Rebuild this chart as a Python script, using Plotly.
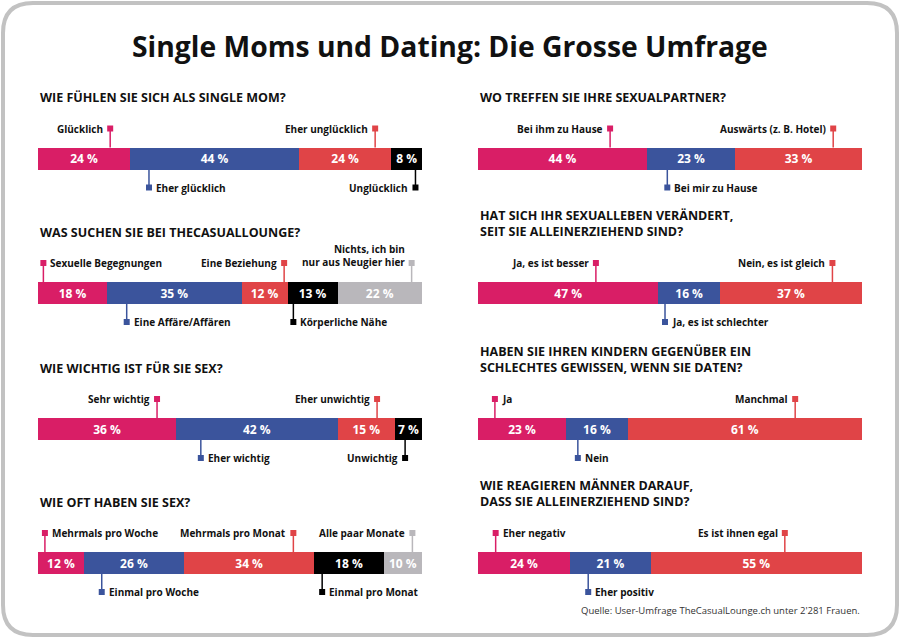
import plotly.graph_objects as go

W, H = 900, 638

# ---------------- data ----------------
title = "Single Moms und Dating: Die Grosse Umfrage"
source = "Quelle: User-Umfrage TheCasualLounge.ch unter 2'281 Frauen."

q1_title = "WIE FÜHLEN SIE SICH ALS SINGLE MOM?"
q1_labels = ["Glücklich", "Eher glücklich", "Eher unglücklich", "Unglücklich"]
q1_values = [24, 44, 24, 8]

q2_title = "WAS SUCHEN SIE BEI THECASUALLOUNGE?"
q2_labels = ["Sexuelle Begegnungen", "Eine Affäre/Affären", "Eine Beziehung",
             "Körperliche Nähe", "Nichts, ich bin<br>nur aus Neugier hier"]
q2_values = [18, 35, 12, 13, 22]

q3_title = "WIE WICHTIG IST FÜR SIE SEX?"
q3_labels = ["Sehr wichtig", "Eher wichtig", "Eher unwichtig", "Unwichtig"]
q3_values = [36, 42, 15, 7]

q4_title = "WIE OFT HABEN SIE SEX?"
q4_labels = ["Mehrmals pro Woche", "Einmal pro Woche", "Mehrmals pro Monat",
             "Einmal pro Monat", "Alle paar Monate"]
q4_values = [12, 26, 34, 18, 10]

q5_title = "WO TREFFEN SIE IHRE SEXUALPARTNER?"
q5_labels = ["Bei ihm zu Hause", "Bei mir zu Hause", "Auswärts (z. B. Hotel)"]
q5_values = [44, 23, 33]

q6_title = "HAT SICH IHR SEXUALLEBEN VERÄNDERT,<br>SEIT SIE ALLEINERZIEHEND SIND?"
q6_labels = ["Ja, es ist besser", "Ja, es ist schlechter", "Nein, es ist gleich"]
q6_values = [47, 16, 37]

q7_title = "HABEN SIE IHREN KINDERN GEGENÜBER EIN<br>SCHLECHTES GEWISSEN, WENN SIE DATEN?"
q7_labels = ["Ja", "Nein", "Manchmal"]
q7_values = [23, 16, 61]

q8_title = "WIE REAGIEREN MÄNNER DARAUF,<br>DASS SIE ALLEINERZIEHEND SIND?"
q8_labels = ["Eher negativ", "Eher positiv", "Es ist ihnen egal"]
q8_values = [24, 21, 55]

# ---------------- layout / style (positions, not data) ----------------
COLORS = ["#D91E66", "#3B549C", "#E04447", "#000000", "#B9B7BB"]
FONT = "Open Sans"

# label placement per segment: (side above/below, marker position on bar in % , text side)
q1_place = [("a", 18.8, "L"), ("b", 28.9, "R"), ("a", 87.8, "L"), ("b", 98.3, "L")]
q2_place = [("a", 1.4, "R"), ("b", 23.1, "R"), ("a", 64.1, "L"), ("b", 66.5, "R"), ("a", 97.3, "L")]
q3_place = [("a", 31.0, "L"), ("b", 42.4, "R"), ("a", 88.3, "L"), ("b", 95.6, "L")]
q4_place = [("a", 1.8, "R"), ("b", 16.6, "R"), ("a", 66.5, "L"), ("b", 74.0, "R"), ("a", 97.5, "L")]
q5_place = [("a", 34.4, "L"), ("b", 49.3, "R"), ("a", 92.5, "L")]
q6_place = [("a", 30.7, "L"), ("b", 48.7, "R"), ("a", 92.3, "L")]
q7_place = [("a", 4.4, "R"), ("b", 26.0, "R"), ("a", 82.6, "L")]
q8_place = [("a", 4.6, "R"), ("b", 28.7, "R"), ("a", 79.9, "L")]

panels = [
    (q1_title, q1_labels, q1_values, q1_place, 38, 158.5),
    (q2_title, q2_labels, q2_values, q2_place, 38, 293),
    (q3_title, q3_labels, q3_values, q3_place, 38, 429),
    (q4_title, q4_labels, q4_values, q4_place, 38, 563),
    (q5_title, q5_labels, q5_values, q5_place, 478, 158.5),
    (q6_title, q6_labels, q6_values, q6_place, 478, 293),
    (q7_title, q7_labels, q7_values, q7_place, 478, 429),
    (q8_title, q8_labels, q8_values, q8_place, 478, 563),
]

BAR_W = 384
UNIT = 22.0          # px per y-unit (bar height)
HALF = 2.0           # y range half-size in units
LAB_A = 30.0 / UNIT  # label offset above bar center
LAB_B = 29.0 / UNIT  # label offset below bar center


def px(x):
    return x / W


def py(y):
    return 1 - y / H


fig = go.Figure()
layout = dict(
    width=W, height=H, margin=dict(l=0, r=0, t=0, b=0),
    paper_bgcolor="white", plot_bgcolor="rgba(0,0,0,0)",
    showlegend=False, barmode="stack",
    uniformtext=dict(minsize=12, mode="show"),
    font=dict(family=FONT, color="#111111"),
)
annotations = []
shapes = []

for i, (qt, labels, values, place, x0, yc) in enumerate(panels):
    n = i + 1
    xa = "x" if n == 1 else f"x{n}"
    ya = "y" if n == 1 else f"y{n}"
    layout["xaxis" if n == 1 else f"xaxis{n}"] = dict(
        domain=[px(x0), px(x0 + BAR_W)], range=[0, 100], visible=False,
        fixedrange=True, anchor=ya)
    layout["yaxis" if n == 1 else f"yaxis{n}"] = dict(
        domain=[py(yc + HALF * UNIT), py(yc - HALF * UNIT)], range=[-HALF, HALF],
        visible=False, fixedrange=True, anchor=xa)

    for j, (lab, v) in enumerate(zip(labels, values)):
        fig.add_trace(go.Bar(
            x=[v], y=[0], orientation="h", width=1, xaxis=xa, yaxis=ya,
            marker=dict(color=COLORS[j], line=dict(width=0)),
            text=[f"{v} %"], textposition="inside", insidetextanchor="middle",
            textangle=0,
            textfont=dict(color="white", size=12, family=FONT, weight=700),
            hoverinfo="skip"))

    # label markers, connector lines, texts
    mx, my, mc = [], [], []
    for j, (lab, (side, pos, tside)) in enumerate(zip(labels, place)):
        ym = LAB_A if side == "a" else -LAB_B
        edge = 0.5 if side == "a" else -0.5
        mx.append(pos)
        my.append(ym)
        mc.append(COLORS[j])
        shapes.append(dict(type="line", xref=xa, yref=ya, x0=pos, x1=pos,
                           y0=ym, y1=edge, line=dict(color=COLORS[j], width=1.5),
                           layer="below"))
        multi = "<br>" in lab
        annotations.append(dict(
            xref=xa, yref=ya, x=pos, y=ym, text=lab, showarrow=False,
            xanchor="right" if tside == "L" else "left",
            yanchor="bottom" if multi else "middle",
            yshift=-8 if multi else 0,
            align="right" if tside == "L" else "left",
            xshift=-5 if tside == "L" else 5,
            font=dict(family=FONT, size=10, color="#111111", weight=700)))
    fig.add_trace(go.Scatter(
        x=mx, y=my, mode="markers", xaxis=xa, yaxis=ya, cliponaxis=False,
        marker=dict(symbol="square", size=6, color=mc), hoverinfo="skip"))

    # question heading
    two = "<br>" in qt
    annotations.append(dict(
        xref="paper", yref="paper", x=px(x0), y=py(yc - (70 if two else 61)),
        text=qt, showarrow=False, xanchor="left", yanchor="middle", align="left",
        font=dict(family=FONT, size=12.5, color="#111111", weight=700)))

# title and source
annotations.append(dict(
    xref="paper", yref="paper", x=0.5, y=py(46), text=title, showarrow=False,
    xanchor="center", yanchor="middle",
    font=dict(family=FONT, size=28.3, color="#111111", weight=700)))
annotations.append(dict(
    xref="paper", yref="paper", x=px(862), y=py(610), text=source, showarrow=False,
    xanchor="right", yanchor="middle",
    font=dict(family=FONT, size=9.5, color="#333333")))

# rounded frame
bx0, by0, bx1, by1, r = 3, 3, 897, 635, 30
path = (f"M {px(bx0 + r)} {py(by0)} L {px(bx1 - r)} {py(by0)} "
        f"Q {px(bx1)} {py(by0)} {px(bx1)} {py(by0 + r)} "
        f"L {px(bx1)} {py(by1 - r)} Q {px(bx1)} {py(by1)} {px(bx1 - r)} {py(by1)} "
        f"L {px(bx0 + r)} {py(by1)} Q {px(bx0)} {py(by1)} {px(bx0)} {py(by1 - r)} "
        f"L {px(bx0)} {py(by0 + r)} Q {px(bx0)} {py(by0)} {px(bx0 + r)} {py(by0)} Z")
shapes.append(dict(type="path", xref="paper", yref="paper", path=path,
                   line=dict(color="#C2C2C2", width=4), layer="below"))

layout["annotations"] = annotations
layout["shapes"] = shapes
fig.update_layout(**layout)
fig.write_html("out.html", config={"displayModeBar": False, "staticPlot": True})

# remove the browser's default page margin so the figure sits at (0, 0)
with open("out.html", "r", encoding="utf-8") as f:
    html = f.read()
html = html.replace("<head>", "<head><style>html,body{margin:0;padding:0;overflow:hidden;}</style>", 1)
with open("out.html", "w", encoding="utf-8") as f:
    f.write(html)
